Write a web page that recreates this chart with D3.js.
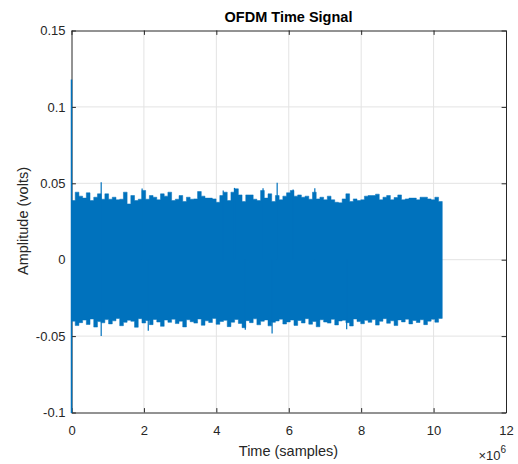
<html>
  <head>
    <meta charset="utf-8">
    <title>OFDM Time Signal</title>
    <style>
      body {
          margin: 0;
          background: #fff;
      }
      svg {
          font-family: "Liberation Sans", Arial, sans-serif;
      }
      .tick text {
          font-size: 13px;
          fill: #262626;
      }
      .title {
          font-size: 14.5px;
          font-weight: bold;
          text-anchor: middle;
          fill: #000;
      }
      .axis-label {
          font-size: 14.5px;
          text-anchor: middle;
          fill: #262626;
      }
    </style>
  </head>
  <body>
    <script src="https://cdn.jsdelivr.net/npm/d3@7"></script>
    <script type="text/javascript">
// tick values and labels
var xTicks = [0, 2e6, 4e6, 6e6, 8e6, 10e6, 12e6];
var xTickLabels = ["0", "2", "4", "6", "8", "10", "12"];
var yTicks = [-0.1, -0.05, 0, 0.05, 0.1, 0.15];
var yTickLabels = ["-0.1", "-0.05", "0", "0.05", "0.1", "0.15"];

// the signal is 10.24e6 samples, summarised as peak values per block
var blockSize = 102400;
var upperPeak = [
  0.0387, 0.0442, 0.0416, 0.0403, 0.0438, 0.0387, 0.0409, 0.0431, 0.0396, 0.0431,
  0.0396, 0.0409, 0.0392, 0.0396, 0.0442, 0.0365, 0.0420, 0.0387, 0.0396, 0.0453,
  0.0396, 0.0420, 0.0409, 0.0392, 0.0431, 0.0416, 0.0442, 0.0387, 0.0396, 0.0420,
  0.0381, 0.0409, 0.0396, 0.0398, 0.0446, 0.0416, 0.0403, 0.0403, 0.0398, 0.0376,
  0.0420, 0.0442, 0.0387, 0.0442, 0.0464, 0.0424, 0.0381, 0.0424, 0.0424, 0.0396,
  0.0387, 0.0453, 0.0403, 0.0431, 0.0381, 0.0420, 0.0392, 0.0416, 0.0438, 0.0453,
  0.0416, 0.0424, 0.0409, 0.0416, 0.0396, 0.0442, 0.0398, 0.0409, 0.0392, 0.0416,
  0.0392, 0.0376, 0.0372, 0.0398, 0.0431, 0.0381, 0.0398, 0.0387, 0.0392, 0.0416,
  0.0420, 0.0420, 0.0429, 0.0392, 0.0409, 0.0420, 0.0392, 0.0407, 0.0424, 0.0392,
  0.0398, 0.0403, 0.0403, 0.0392, 0.0409, 0.0409, 0.0398, 0.0392, 0.0409, 0.0381
];
var lowerPeak = [
  -0.0402, -0.0431, -0.0412, -0.0395, -0.0424, -0.0388, -0.0441, -0.0405, -0.0413, -0.0392,
  -0.0420, -0.0400, -0.0385, -0.0432, -0.0410, -0.0396, -0.0403, -0.0442, -0.0386, -0.0414,
  -0.0398, -0.0425, -0.0391, -0.0408, -0.0436, -0.0395, -0.0410, -0.0389, -0.0418, -0.0402,
  -0.0440, -0.0393, -0.0406, -0.0415, -0.0388, -0.0429, -0.0400, -0.0411, -0.0384, -0.0423,
  -0.0404, -0.0397, -0.0438, -0.0409, -0.0391, -0.0417, -0.0445, -0.0399, -0.0412, -0.0387,
  -0.0426, -0.0403, -0.0394, -0.0433, -0.0410, -0.0401, -0.0389, -0.0421, -0.0407, -0.0395,
  -0.0430, -0.0398, -0.0414, -0.0386, -0.0422, -0.0404, -0.0439, -0.0393, -0.0408, -0.0415,
  -0.0390, -0.0427, -0.0401, -0.0396, -0.0412, -0.0434, -0.0388, -0.0405, -0.0419, -0.0397,
  -0.0410, -0.0392, -0.0428, -0.0403, -0.0386, -0.0416, -0.0400, -0.0431, -0.0394, -0.0407,
  -0.0389, -0.0420, -0.0398, -0.0411, -0.0393, -0.0425, -0.0402, -0.0390, -0.0409, -0.0384
];
// isolated taller peaks: [sample, amplitude]
var spikes = [
  [0.82e6, 0.0507], [1.95e6, 0.0466], [4.19e6, 0.0453], [4.50e6, 0.0470],
  [5.29e6, 0.0468], [5.68e6, 0.0503], [6.12e6, 0.0459], [6.72e6, 0.0468],
  [0.82e6, -0.0500], [2.12e6, -0.0465], [4.80e6, -0.0458], [5.54e6, -0.0483],
  [7.60e6, -0.0455]
];
// first sample transient
var startSpike = [0.118, -0.11];

var width = 518, height = 464;
var plot = { left: 71, right: 506, top: 30, bottom: 412 };

var x = d3.scaleLinear().domain([0, 12e6]).range([plot.left + 0.5, plot.right]);
var y = d3.scaleLinear().domain([-0.1, 0.15]).range([plot.bottom + 0.5, plot.top + 0.5]);

var svg = d3.select("body").append("svg")
    .attr("width", width)
    .attr("height", height);

svg.append("defs").append("clipPath")
    .attr("id", "clip")
  .append("rect")
    .attr("x", plot.left - 1)
    .attr("y", plot.top)
    .attr("width", plot.right - plot.left + 1)
    .attr("height", plot.bottom - plot.top + 1);

// grid
svg.append("g").selectAll("line")
    .data(xTicks.slice(1, -1))
  .enter().append("line")
    .attr("x1", d => x(d)).attr("x2", d => x(d))
    .attr("y1", plot.top).attr("y2", plot.bottom)
    .attr("stroke", "#e3e3e3");
svg.append("g").selectAll("line")
    .data(yTicks.slice(1, -1))
  .enter().append("line")
    .attr("x1", plot.left).attr("x2", plot.right)
    .attr("y1", d => y(d)).attr("y2", d => y(d))
    .attr("stroke", "#e3e3e3");

// axes
var tickLen = 4.4;
svg.append("g")
    .attr("transform", "translate(0," + (plot.bottom + 0.5) + ")")
    .call(d3.axisBottom(x).tickValues(xTicks)
        .tickFormat((d, i) => xTickLabels[i])
        .tickSizeInner(-tickLen).tickSizeOuter(0).tickPadding(13));
svg.append("g")
    .attr("transform", "translate(0," + (plot.top + 0.5) + ")")
    .call(d3.axisTop(x).tickValues(xTicks)
        .tickFormat("").tickSizeInner(-tickLen).tickSizeOuter(0));
svg.append("g")
    .attr("transform", "translate(" + (plot.left + 0.5) + ",0)")
    .call(d3.axisLeft(y).tickValues(yTicks)
        .tickFormat((d, i) => yTickLabels[i])
        .tickSizeInner(-tickLen).tickSizeOuter(0).tickPadding(6));
svg.append("g")
    .attr("transform", "translate(" + plot.right + ",0)")
    .call(d3.axisRight(y).tickValues(yTicks)
        .tickFormat("").tickSizeInner(-tickLen).tickSizeOuter(0));
svg.selectAll(".domain, .tick line").attr("stroke", "#262626");
svg.selectAll(".tick text").attr("font-family", null).attr("font-size", null).attr("fill", null);

// signal, drawn over the axes like MATLAB does
var blocks = upperPeak.map((u, i) => ({ s: i * blockSize, hi: u, lo: lowerPeak[i] }));
blocks.push({ s: upperPeak.length * blockSize, hi: upperPeak[upperPeak.length - 1], lo: lowerPeak[lowerPeak.length - 1] });

var sig = svg.append("g").attr("clip-path", "url(#clip)");
sig.append("path")
    .datum(blocks)
    .attr("fill", "#0072BD")
    .attr("stroke", "#0072BD")
    .attr("stroke-width", 0.5)
    .attr("d", d3.area()
        .x(d => x(d.s))
        .y0(d => y(d.lo))
        .y1(d => y(d.hi))
        .curve(d3.curveStepAfter));
sig.selectAll(".spike")
    .data(spikes)
  .enter().append("line")
    .attr("class", "spike")
    .attr("x1", d => x(d[0])).attr("x2", d => x(d[0]))
    .attr("y1", y(0)).attr("y2", d => y(d[1]))
    .attr("stroke", "#0072BD")
    .attr("stroke-width", 1.2);
// transient at the first sample
sig.append("line")
    .attr("x1", x(0)).attr("x2", x(0))
    .attr("y1", y(startSpike[0])).attr("y2", y(startSpike[1]))
    .attr("stroke", "#0072BD")
    .attr("stroke-width", 1.5);

// labels
svg.append("text").attr("class", "title")
    .attr("x", (plot.left + plot.right) / 2).attr("y", 22)
    .text("OFDM Time Signal");
svg.append("text").attr("class", "axis-label")
    .attr("x", (plot.left + plot.right) / 2).attr("y", 456)
    .text("Time (samples)");
svg.append("text").attr("class", "axis-label")
    .attr("transform", "translate(28," + (plot.top + plot.bottom) / 2 + ") rotate(-90)")
    .text("Amplitude (volts)");
var expo = svg.append("text")
    .attr("x", plot.right).attr("y", 460)
    .attr("text-anchor", "end")
    .attr("font-size", 13).attr("fill", "#262626");
expo.append("tspan").text("\u00d710");
expo.append("tspan").attr("dy", -7).attr("font-size", 10).text("6");
    </script>
  </body>
</html>
